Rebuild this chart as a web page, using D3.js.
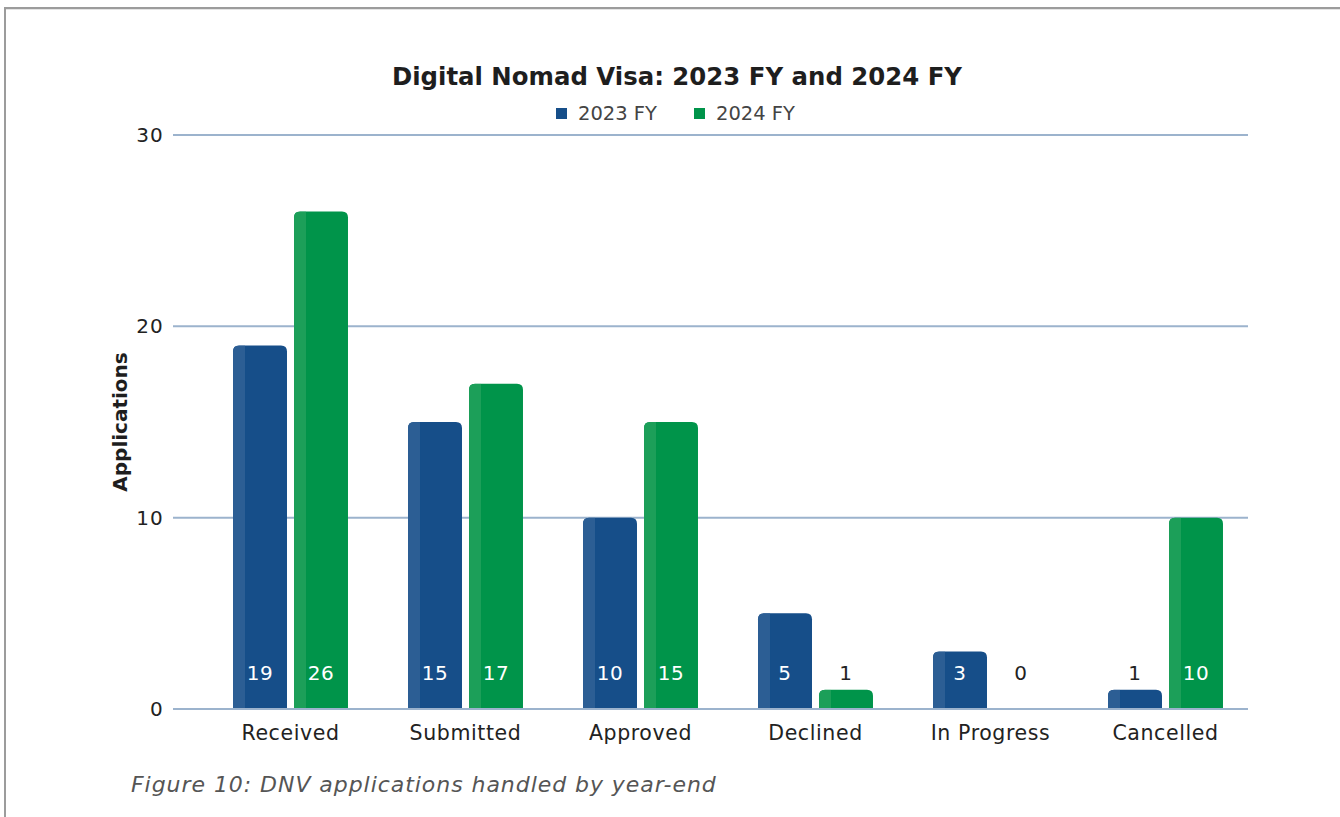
<!DOCTYPE html>
<html>
<head>
<meta charset="utf-8">
<script src="https://cdn.jsdelivr.net/npm/d3@7"></script>
<style>
  html, body { margin: 0; padding: 0; background: #fff; }
  svg { display: block; font-family: "DejaVu Sans", sans-serif; }
</style>
</head>
<body>
<svg id="chart" width="1340" height="817"></svg>
<script>
// Applications handled per stage, by financial year
const categories = ["Received", "Submitted", "Approved", "Declined", "In Progress", "Cancelled"];
const seriesNames = ["2023 FY", "2024 FY"];
const values2023 = [19, 15, 10, 5, 3, 1];
const values2024 = [26, 17, 15, 1, 0, 10];
const yTicks = [0, 10, 20, 30];

const colors = { "2023 FY": "#164e89", "2024 FY": "#00944a" };
const stripColors = { "2023 FY": "#2c5e94", "2024 FY": "#1c9f59" };

const svg = d3.select("#chart");
const W = 1340, H = 817;

// outer frame (left and top edges)
svg.append("line").attr("x1", 5).attr("x2", 5).attr("y1", 7).attr("y2", H)
  .attr("stroke", "#9c9c9c").attr("stroke-width", 2);
svg.append("line").attr("x1", 4).attr("x2", W).attr("y1", 8).attr("y2", 8)
  .attr("stroke", "#9c9c9c").attr("stroke-width", 2);
svg.append("line").attr("x1", 6).attr("x2", W).attr("y1", 9.5).attr("y2", 9.5)
  .attr("stroke", "#e4e4e4").attr("stroke-width", 1);

const y = d3.scaleLinear().domain([0, 30]).range([709, 135]);
const x = d3.scaleBand().domain(categories).range([203, 1253])
  .paddingInner(0.343).paddingOuter(0.1715);
const xs = d3.scaleBand().domain(seriesNames).range([0, x.bandwidth()]).paddingInner(0.115);

const gridX1 = 173, gridX2 = 1248;

// gridlines
svg.append("g").selectAll("line").data(yTicks).join("line")
  .attr("x1", gridX1).attr("x2", gridX2)
  .attr("y1", d => y(d)).attr("y2", d => y(d))
  .attr("stroke", "#9cb3cd").attr("stroke-width", 2);

// y axis tick labels
const yAxis = d3.axisLeft(y).tickValues(yTicks).tickSize(0).tickPadding(0).tickFormat(d3.format("d"));
const gy = svg.append("g").attr("transform", `translate(${gridX1 - 9},0)`).call(yAxis);
gy.select(".domain").remove();
gy.selectAll("text").attr("font-size", 20).attr("fill", "#222").attr("font-family", "DejaVu Sans, sans-serif")
  .attr("letter-spacing", 1.2);

// x axis category labels
const xAxis = d3.axisBottom(x).tickSize(0).tickPadding(0);
const gx = svg.append("g").attr("transform", `translate(0,${y(0) + 16})`).call(xAxis);
gx.select(".domain").remove();
gx.selectAll("text").attr("font-size", 20.5).attr("fill", "#222").attr("font-family", "DejaVu Sans, sans-serif")
  .attr("letter-spacing", 0.6).attr("dy", "0.71em");

// rounded-top bar path
function barPath(x0, y0, w, h, r) {
  if (h <= 0) return "";
  const rr = Math.min(r, h, w / 2);
  return `M${x0},${y0 + h}V${y0 + rr}Q${x0},${y0} ${x0 + rr},${y0}H${x0 + w - rr}Q${x0 + w},${y0} ${x0 + w},${y0 + rr}V${y0 + h}Z`;
}

const rows = categories.map((c, i) => ({
  cat: c,
  items: [
    { s: "2023 FY", v: values2023[i] },
    { s: "2024 FY", v: values2024[i] }
  ]
}));

const groups = svg.append("g").selectAll("g").data(rows).join("g")
  .attr("transform", d => `translate(${x(d.cat)},0)`);

const bars = groups.selectAll("g.bar").data(d => d.items).join("g").attr("class", "bar");

bars.each(function (d, i) {
  const g = d3.select(this);
  const cat = this.parentNode.__data__.cat;
  const x0 = xs(d.s), w = xs.bandwidth();
  const top = y(d.v), h = y(0) - y(d.v);
  const clipId = `clip-${cat.replace(/\W/g, "")}-${i}`;
  g.append("clipPath").attr("id", clipId)
    .append("path").attr("d", barPath(x0, top, w, h, 6));
  g.append("path").attr("d", barPath(x0, top, w, h, 6)).attr("fill", colors[d.s]);
  g.append("rect").attr("x", x0).attr("y", top).attr("width", 12).attr("height", Math.max(h, 0))
    .attr("fill", stripColors[d.s]).attr("clip-path", `url(#${clipId})`);
  // value label sits near the base; white when inside the bar
  const labelY = y(0) - 29;
  const inside = top < labelY - 16;
  g.append("text").attr("x", x0 + w / 2).attr("y", labelY)
    .attr("text-anchor", "middle").attr("font-size", 20).attr("letter-spacing", 0.6)
    .attr("fill", inside ? "#ffffff" : "#222")
    .text(d.v);
});

// baseline redrawn over the bars
svg.append("line").attr("x1", gridX1).attr("x2", gridX2).attr("y1", y(0)).attr("y2", y(0))
  .attr("stroke", "#9cb3cd").attr("stroke-width", 2);

// title
svg.append("text").attr("x", 677).attr("y", 85).attr("text-anchor", "middle")
  .attr("font-size", 24.4).attr("font-weight", "bold").attr("fill", "#1e1e1e")
  .text("Digital Nomad Visa: 2023 FY and 2024 FY");

// legend
const legend = svg.append("g");
const legendItems = [{ s: "2023 FY", x: 556 }, { s: "2024 FY", x: 694 }];
legendItems.forEach(li => {
  legend.append("rect").attr("x", li.x).attr("y", 108).attr("width", 11).attr("height", 11)
    .attr("fill", colors[li.s]);
  legend.append("text").attr("x", li.x + 22).attr("y", 120).attr("font-size", 19.5)
    .attr("fill", "#444").text(li.s);
});

// y axis title
svg.append("text").attr("transform", `translate(127,${(y(0) + y(30)) / 2}) rotate(-90)`)
  .attr("text-anchor", "middle").attr("font-size", 20).attr("font-weight", "bold")
  .attr("fill", "#1e1e1e").text("Applications");

// caption
svg.append("text").attr("x", 131).attr("y", 792).attr("font-size", 22)
  .attr("letter-spacing", 0.95)
  .attr("font-style", "italic").attr("fill", "#555")
  .text("Figure 10: DNV applications handled by year-end");
</script>
</body>
</html>
